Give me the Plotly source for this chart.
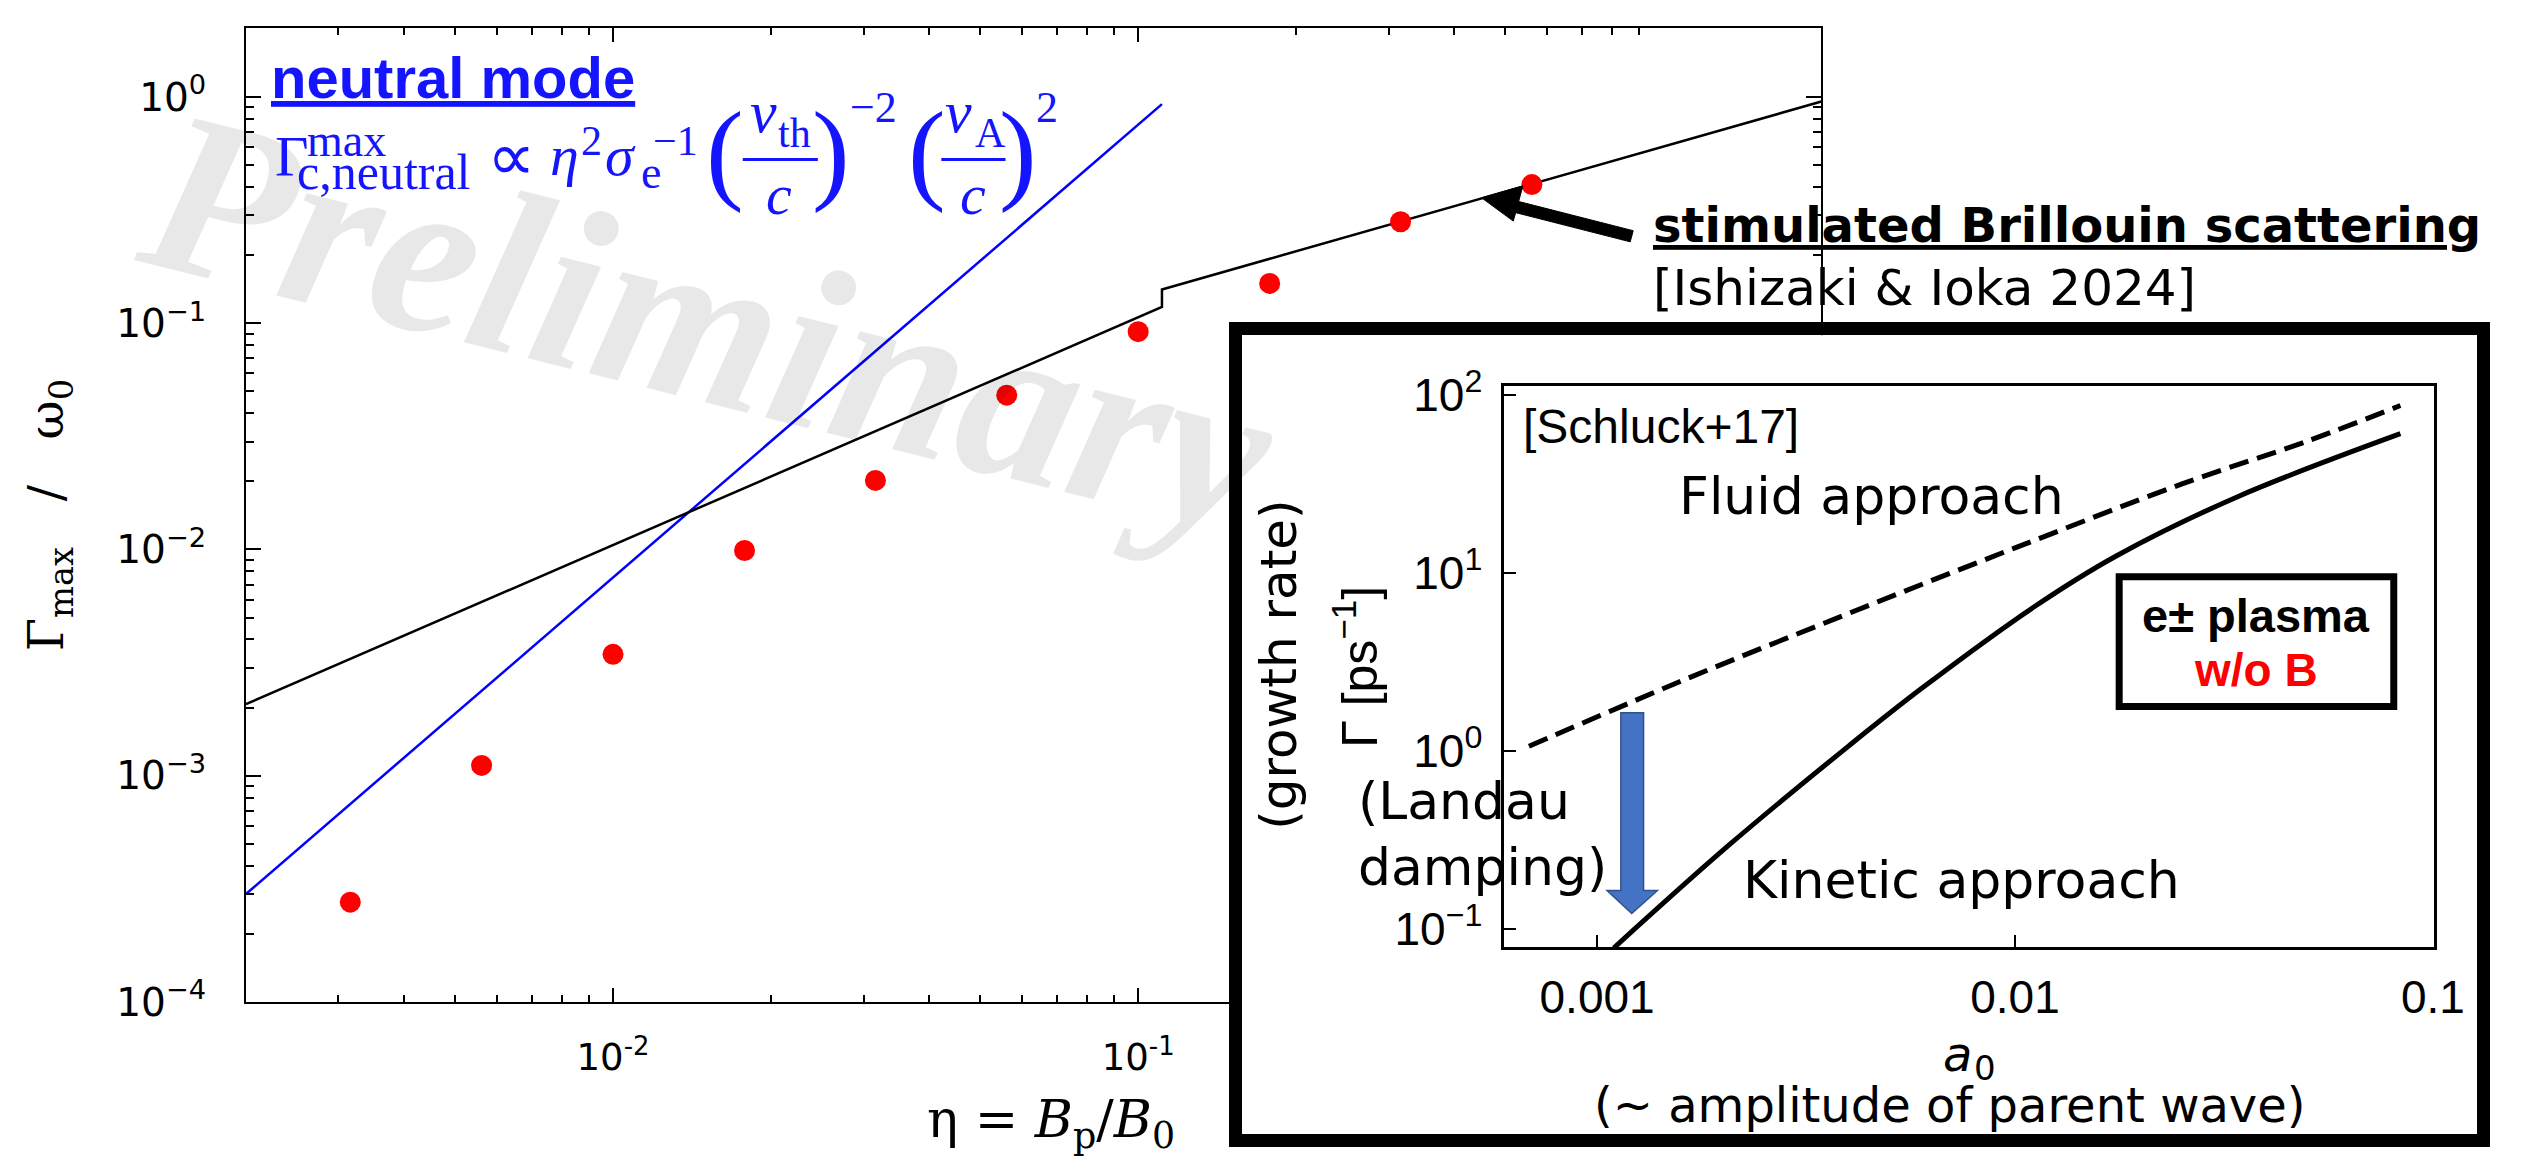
import plotly.graph_objects as go

# ---------------- data ----------------
# simulation growth rates (red dots)
eta_sim = [0.00316, 0.00562, 0.0100, 0.0178, 0.0316, 0.0562, 0.100, 0.178, 0.316, 0.562]
gamma_sim = [2.76e-4, 1.11e-3, 3.44e-3, 9.9e-3, 0.0202, 0.0481, 0.0918, 0.150, 0.281, 0.410]

# stimulated Brillouin scattering estimate (black line, with the jump)
sbs_eta = [0.002, 0.111, 0.111, 2.0]
sbs_gamma = [0.00207, 0.118, 0.141, 0.955]

# neutral-mode scaling (blue line)
neutral_eta = [0.002, 0.111]
neutral_gamma = [3.0e-4, 0.93]

# inset: Schluck+17 growth rates [1/ps] vs a0
fluid_a = [0.000687, 0.00158, 0.00398, 0.0100, 0.0251, 0.0501, 0.0836]
fluid_growth = [1.06, 2.45, 5.89, 13.8, 31.6, 55.0, 87.1]
kinetic_a = [0.001096, 0.00206, 0.00401, 0.00596, 0.01114, 0.01742, 0.0340, 0.0836]
kinetic_growth = [0.078, 0.293, 1.07, 2.23, 6.47, 12.4, 26.7, 60.5]

# tick labels
main_x_ticks = [0.01, 0.1]
main_x_labels = ["10<sup>-2</sup>", "10<sup>-1</sup>"]
main_y_ticks = [1e-4, 1e-3, 1e-2, 1e-1, 1]
main_y_labels = ["10<sup>−4</sup>", "10<sup>−3</sup>", "10<sup>−2</sup>", "10<sup>−1</sup>", "10<sup>0</sup>"]
inset_x_ticks = [0.001, 0.01, 0.1]
inset_x_labels = ["0.001", "0.01", "0.1"]
inset_y_ticks = [0.1, 1, 10, 100]
inset_y_labels = ["10<sup>−1</sup>", "10<sup>0</sup>", "10<sup>1</sup>", "10<sup>2</sup>"]

# ---------------- figure geometry ----------------
W, H = 2526, 1169


def fx(x):
    return x / W


def fy(y):
    return 1 - y / H


BLUE = "#1414ff"
minor_x = [m * 10.0 ** e for e in (-3, -2, -1) for m in range(2, 10) if 0.0021 < m * 10.0 ** e < 1.9]
minor_y = [m * 10.0 ** e for e in (-4, -3, -2, -1) for m in range(2, 10)]

fig = go.Figure()

# main panel
fig.add_trace(go.Scatter(x=neutral_eta, y=neutral_gamma, mode="lines",
                         line=dict(color="#0000ff", width=2.5), xaxis="x", yaxis="y"))
fig.add_trace(go.Scatter(x=sbs_eta, y=sbs_gamma, mode="lines",
                         line=dict(color="black", width=2.5), xaxis="x", yaxis="y"))
fig.add_trace(go.Scatter(x=eta_sim, y=gamma_sim, mode="markers",
                         marker=dict(color="#ff0000", size=21, line=dict(width=0)),
                         xaxis="x", yaxis="y"))

# framed panel holding the inset
fig.add_trace(go.Scatter(x=[0.5], y=[0.5], mode="markers", marker=dict(opacity=0),
                         hoverinfo="skip", xaxis="x2", yaxis="y2"))

# inset panel
fig.add_trace(go.Scatter(x=fluid_a, y=fluid_growth, mode="lines", line_shape="spline",
                         line=dict(color="black", width=5, dash="20px,9px"),
                         xaxis="x3", yaxis="y3"))
fig.add_trace(go.Scatter(x=kinetic_a, y=kinetic_growth, mode="lines", line_shape="spline",
                         line=dict(color="black", width=5), xaxis="x3", yaxis="y3"))

axis_common = dict(showgrid=False, zeroline=False, linecolor="black", tickcolor="black")

fig.update_layout(
    width=W, height=H, margin=dict(l=0, r=0, t=0, b=0),
    paper_bgcolor="white", plot_bgcolor="white",
    showlegend=False, hovermode=False,
    xaxis=dict(axis_common, domain=[fx(249), fx(1844)], anchor="y", type="log",
               range=[-2.699, 0.301], tickmode="array", tickvals=main_x_ticks,
               ticktext=main_x_labels, ticks="inside", ticklen=14, tickwidth=1.5,
               showline=True, linewidth=2, mirror="ticks", ticklabelstandoff=22,
               tickfont=dict(family="DejaVu Sans", size=37, color="black"),
               minor=dict(tickmode="array", tickvals=minor_x, ticks="inside",
                          ticklen=7, tickwidth=1.5, tickcolor="black", showgrid=False)),
    yaxis=dict(axis_common, domain=[fy(1019), fy(5)], anchor="x", type="log",
               range=[-4.0, 0.306], tickmode="array", tickvals=main_y_ticks,
               ticktext=main_y_labels, ticks="inside", ticklen=15, tickwidth=1.5,
               showline=True, linewidth=2, mirror="ticks", ticklabelstandoff=30,
               tickfont=dict(family="DejaVu Sans", size=39, color="black"),
               minor=dict(tickmode="array", tickvals=minor_y, ticks="inside",
                          ticklen=8, tickwidth=1.5, tickcolor="black", showgrid=False)),
    xaxis2=dict(axis_common, domain=[fx(1257), fx(2508)], anchor="y2", range=[0, 1],
                showline=True, linewidth=13, mirror=True, showticklabels=False, ticks=""),
    yaxis2=dict(axis_common, domain=[fy(1156), fy(325)], anchor="x2", range=[0, 1],
                showline=True, linewidth=13, mirror=True, showticklabels=False, ticks=""),
    xaxis3=dict(axis_common, domain=[fx(1523), fx(2464)], anchor="y3", type="log",
                range=[-3.222, -0.998], tickmode="array", tickvals=inset_x_ticks,
                ticktext=inset_x_labels, ticks="inside", ticklen=12, tickwidth=2,
                showline=True, linewidth=2.5, mirror=True, ticklabelstandoff=8,
                tickfont=dict(family="Liberation Sans", size=46, color="black")),
    yaxis3=dict(axis_common, domain=[fy(962), fy(378)], anchor="x3", type="log",
                range=[-1.103, 2.049], tickmode="array", tickvals=inset_y_ticks,
                ticktext=inset_y_labels, ticks="inside", ticklen=12, tickwidth=2,
                showline=True, linewidth=2.5, mirror=True, ticklabelstandoff=10,
                tickfont=dict(family="Liberation Sans", size=46, color="black")),
)


def note(text, x, y, size, family="Liberation Sans", color="black",
         xanchor="left", yanchor="middle", angle=0):
    fig.add_annotation(text=text, x=fx(x), y=fy(y), xref="paper", yref="paper",
                       showarrow=False, xanchor=xanchor, yanchor=yanchor,
                       textangle=angle, borderpad=0,
                       font=dict(family=family, size=size, color=color))


def polygon(points, fill, line_color, line_width):
    path = "M " + " L ".join(f"{fx(px):.5f},{fy(py):.5f}" for px, py in points) + " Z"
    fig.add_shape(type="path", path=path, xref="paper", yref="paper",
                  fillcolor=fill, line=dict(color=line_color, width=line_width),
                  layer="above")


def hline(x0, x1, y, color, width):
    fig.add_shape(type="line", x0=fx(x0), x1=fx(x1), y0=fy(y), y1=fy(y),
                  xref="paper", yref="paper", line=dict(color=color, width=width),
                  layer="above")


# watermark
note("<b><i>Preliminary</i></b>", 718, 312, 232, family="Liberation Serif",
     color="rgba(0,0,0,0.09)", xanchor="center", angle=14)

# axis titles of the main panel
NB = "\u00a0"
note(f"Γ<sub>max</sub>{NB * 3}/{NB * 3}ω<sub>0</sub>", 50, 512, 48,
     family="DejaVu Serif", xanchor="center", angle=-90)
note("η = <i>B</i><sub>p</sub>/<i>B</i><sub>0</sub>", 1064, 1145, 52,
     family="DejaVu Serif", xanchor="center")

# neutral-mode label and scaling relation
note("<b><u>neutral mode</u></b>", 273, 57, 58, color=BLUE)
SERIF = "Liberation Serif"
formula_parts = [
    ("Γ", 277, 139, 58, "left"),
    ("max", 310, 122, 46, "left"),
    ("c,neutral", 300, 155, 50, "left"),
    ("∝", 518, 140, 68, "center"),
    ("<i>η</i>", 556, 138, 58, "left"),
    ("2", 587, 123, 42, "left"),
    ("<i>σ</i>", 612, 138, 58, "left"),
    ("e", 648, 156, 46, "left"),
    ("−1", 660, 123, 42, "left"),
    ("(", 734, 133, 113, "center"),
    ("<i>v</i>", 758, 93, 60, "left"),
    ("th", 787, 115, 42, "left"),
    ("<i>c</i>", 789, 179, 58, "center"),
    (")", 841, 133, 113, "center"),
    ("−2", 860, 88, 44, "left"),
    ("(", 939, 133, 113, "center"),
    ("<i>v</i>", 956, 93, 60, "left"),
    ("A", 986, 115, 42, "left"),
    ("<i>c</i>", 985, 179, 58, "center"),
    (")", 1031, 133, 113, "center"),
    ("2", 1048, 88, 44, "left"),
]
for txt, x, y, s, anc in formula_parts:
    note(txt, x, y, s, family=SERIF, color=BLUE, xanchor=anc)
hline(752, 828, 142, BLUE, 3)
hline(953, 1018, 142, BLUE, 3)

# SBS label and arrow
note("<b><u>stimulated Brillouin scattering</u></b>", 1673, 210, 48, family="DejaVu Sans")
note("[Ishizaki &amp; Ioka 2024]", 1673, 276, 50, family="DejaVu Sans")
polygon([(1653.5, 216.2), (1537.5, 185.8), (1541.8, 169.5), (1500, 182),
         (1532.1, 206.2), (1534.5, 197.4), (1650.5, 227.8)], "black", "black", 1)

# inset texts
note("[Schluck+17]", 1541, 420, 48)
note("Fluid approach", 1699, 492, 52, family="DejaVu Sans")
note("Kinetic approach", 1764, 892, 52, family="DejaVu Sans")
note("(Landau", 1374, 810, 52, family="DejaVu Sans")
note("damping)", 1374, 879, 52, family="DejaVu Sans")
note("(growth rate)", 1295, 668, 50, family="DejaVu Sans", xanchor="center", angle=-90)
note("Γ [ps<sup>−1</sup>]", 1372, 670, 50, xanchor="center", angle=-90)
note("<i>a</i>", 1966, 1073, 48, family="DejaVu Sans")
note("0", 1998, 1088, 34, family="DejaVu Sans")
note("(~ amplitude of parent wave)", 1974, 1126, 48, family="DejaVu Sans", xanchor="center")

# e± plasma label box
fig.add_shape(type="rect", x0=fx(2145.5), x1=fx(2423.5), y0=fy(576.5), y1=fy(711.5),
              xref="paper", yref="paper", line=dict(color="black", width=7),
              fillcolor="white", layer="above")
note("<b>e± plasma</b>", 2284, 617, 47, xanchor="center")
note("<b>w/o B</b>", 2284, 674, 46, color="#ff0000", xanchor="center")

# Landau damping arrow
polygon([(1641, 718), (1664, 718), (1664, 903), (1678, 903), (1652, 927),
         (1627, 903), (1641, 903)], "#4472C4", "#2F528F", 1.5)

fig.write_html("out.html", config={"displayModeBar": False})
